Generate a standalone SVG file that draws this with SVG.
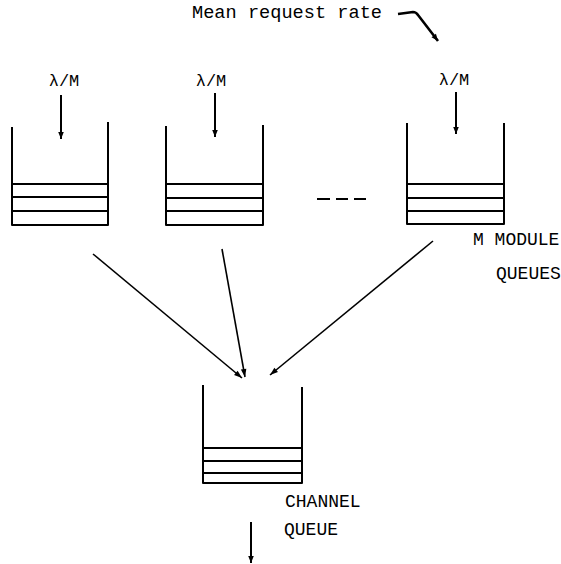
<svg xmlns="http://www.w3.org/2000/svg" width="561" height="564" viewBox="0 0 561 564">
  <defs>
    <marker id="head" viewBox="0 0 10 10" refX="10" refY="5" markerWidth="10" markerHeight="8" markerUnits="userSpaceOnUse" orient="auto">
      <path d="M0,1.5 L10,5 L0,8.5 Z" fill="#000"/>
    </marker>
    <marker id="headSmall" viewBox="0 0 10 10" refX="10" refY="5" markerWidth="12" markerHeight="7" markerUnits="userSpaceOnUse" orient="auto">
      <path d="M0,1 L10,5 L0,9 Z" fill="#000"/>
    </marker>
  </defs>
  <style>
    text { font-family: "Liberation Mono", "Courier New", monospace; fill: #000; }
    .lbl { font-size: 18px; }
    .rate { font-size: 17px; text-anchor: middle; }
    .wall { fill: none; stroke: #000; stroke-width: 2; stroke-linejoin: round; }
    .slot { stroke: #000; stroke-width: 2; }
    .arr { stroke: #000; stroke-width: 2; fill: none; marker-end: url(#headSmall); }
    .conn { stroke: #000; stroke-width: 1.6; fill: none; marker-end: url(#head); }
  </style>

  <rect width="561" height="564" fill="#fff"/>

  <!-- overall request rate annotation -->
  <g id="mean-rate">
    <text class="lbl" x="192" y="18" textLength="190" lengthAdjust="spacingAndGlyphs">Mean request rate</text>
    <path d="M398,14 L413,12 Q416,12 418,15 L438,41" stroke="#000" stroke-width="2.6" fill="none" stroke-linejoin="round" marker-end="url(#headSmall)"/>
  </g>

  <!-- module queue 1 -->
  <g id="module-queue-1">
    <text class="rate" x="64" y="86">λ/M</text>
    <line class="arr" x1="61" y1="95" x2="61" y2="139"/>
    <path class="wall" d="M12,127 L12,225 L108,225 L108,122"/>
    <line class="slot" x1="12" y1="184" x2="108" y2="184"/>
    <line class="slot" x1="12" y1="197" x2="108" y2="197"/>
    <line class="slot" x1="12" y1="211" x2="108" y2="211"/>
  </g>

  <!-- module queue 2 -->
  <g id="module-queue-2">
    <text class="rate" x="211" y="86">λ/M</text>
    <line class="arr" x1="215" y1="93" x2="215" y2="137"/>
    <path class="wall" d="M166,126 L166,225 L263,225 L263,125"/>
    <line class="slot" x1="166" y1="184" x2="263" y2="184"/>
    <line class="slot" x1="166" y1="198" x2="263" y2="198"/>
    <line class="slot" x1="166" y1="211" x2="263" y2="211"/>
  </g>

  <!-- ellipsis between queues -->
  <g id="ellipsis">
    <line class="slot" x1="317" y1="199" x2="330" y2="199"/>
    <line class="slot" x1="336" y1="199" x2="348" y2="199"/>
    <line class="slot" x1="354" y1="199" x2="366" y2="199"/>
  </g>

  <!-- module queue M -->
  <g id="module-queue-m">
    <text class="rate" x="454" y="85">λ/M</text>
    <line class="arr" x1="456" y1="92" x2="456" y2="134"/>
    <path class="wall" d="M407,123 L407,224 L504,224 L504,123"/>
    <line class="slot" x1="407" y1="184" x2="504" y2="184"/>
    <line class="slot" x1="407" y1="198" x2="504" y2="198"/>
    <line class="slot" x1="407" y1="211" x2="504" y2="211"/>
    <text class="lbl" x="473" y="245">M MODULE</text>
    <text class="lbl" x="496" y="279">QUEUES</text>
  </g>

  <!-- channel queue -->
  <g id="channel-queue">
    <path class="wall" d="M203,385 L203,483 L302,483 L302,387"/>
    <line class="slot" x1="203" y1="448" x2="302" y2="448"/>
    <line class="slot" x1="203" y1="461" x2="302" y2="461"/>
    <line class="slot" x1="203" y1="473" x2="302" y2="473"/>
    <text class="lbl" x="285" y="507">CHANNEL</text>
    <text class="lbl" x="284" y="535">QUEUE</text>
    <line class="arr" x1="251" y1="522" x2="251" y2="563"/>
  </g>

  <!-- connectors from module queues to the channel queue -->
  <g id="connectors">
    <line class="conn" x1="93" y1="254" x2="242" y2="378"/>
    <line class="conn" x1="222" y1="249" x2="245" y2="377"/>
    <line class="conn" x1="433" y1="241" x2="270" y2="375"/>
  </g>
</svg>
